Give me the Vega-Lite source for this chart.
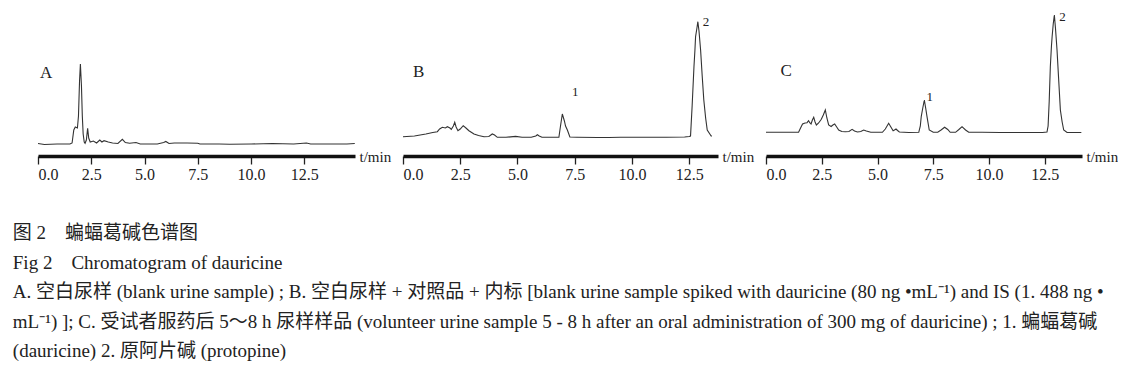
{
  "$schema": "https://vega.github.io/schema/vega-lite/v6.json",
  "padding": {"left": 12, "top": 5, "right": 0, "bottom": 0},
  "background": "white",
  "bounds": "flush",
  "spacing": 48,
  "config": {
    "view": {"stroke": null},
    "axis": {
      "domainWidth": 3.5, "domainColor": "#111", "tickColor": "#222", "tickWidth": 1.3, "tickSize": 8,
      "labelFont": "Liberation Serif", "labelFontSize": 16, "labelColor": "#222", "labelPadding": 2,
      "labelOverlap": false, "grid": false,
      "titleFont": "Liberation Serif", "titleFontSize": 15, "titleFontWeight": "normal", "titleColor": "#222",
      "titleAngle": 0, "titleAlign": "left", "titleBaseline": "middle", "titleY": 0,
      "labelExpr": "datum.value % 2.5 == 0 ? format(datum.value, '.1f') : ''"
    },
    "text": {"font": "Liberation Serif", "color": "#222"}
  },
  "title": {
    "text": [
      "图 2　蝙蝠葛碱色谱图",
      "Fig 2　Chromatogram of dauricine",
      "A. 空白尿样 (blank urine sample) ; B. 空白尿样 + 对照品 + 内标 [blank urine sample spiked with dauricine (80 ng •mL⁻¹) and IS (1. 488 ng •",
      "mL⁻¹) ]; C. 受试者服药后 5～8 h 尿样样品 (volunteer urine sample 5 - 8 h after an oral administration of 300 mg of dauricine) ; 1. 蝙蝠葛碱",
      "(dauricine) 2. 原阿片碱 (protopine)"
    ],
    "orient": "bottom", "anchor": "start", "offset": 42, "dx": -23,
    "font": "'Liberation Serif', 'Noto Sans CJK SC'", "fontSize": 19, "fontWeight": "normal",
    "color": "#222", "lineHeight": 29.5, "baseline": "top"
  },
  "datasets": {
    "A": [
      {"t": 0, "v": 12.5}, {"t": 0.3, "v": 11.5}, {"t": 0.6, "v": 11.7}, {"t": 0.9, "v": 12}, {"t": 1.2, "v": 12}, {"t": 1.5, "v": 12},
      {"t": 1.6, "v": 13}, {"t": 1.68, "v": 26}, {"t": 1.75, "v": 29}, {"t": 1.85, "v": 28}, {"t": 1.9, "v": 40}, {"t": 1.95, "v": 75},
      {"t": 1.99, "v": 92}, {"t": 2.04, "v": 70}, {"t": 2.08, "v": 40}, {"t": 2.12, "v": 22}, {"t": 2.17, "v": 14}, {"t": 2.21, "v": 12.7},
      {"t": 2.27, "v": 16}, {"t": 2.33, "v": 27.7}, {"t": 2.38, "v": 18}, {"t": 2.45, "v": 14}, {"t": 2.6, "v": 15}, {"t": 2.75, "v": 13},
      {"t": 2.9, "v": 16}, {"t": 3.0, "v": 14}, {"t": 3.1, "v": 15.3}, {"t": 3.3, "v": 14}, {"t": 3.5, "v": 13}, {"t": 3.75, "v": 12.5},
      {"t": 3.96, "v": 16.7}, {"t": 4.1, "v": 13.5}, {"t": 4.3, "v": 12.7}, {"t": 4.6, "v": 13.5}, {"t": 4.8, "v": 12}, {"t": 5.2, "v": 12},
      {"t": 5.6, "v": 12}, {"t": 5.9, "v": 13.5}, {"t": 6.0, "v": 14.5}, {"t": 6.15, "v": 12.5}, {"t": 6.4, "v": 13}, {"t": 7.0, "v": 13},
      {"t": 7.5, "v": 12.8}, {"t": 7.6, "v": 12}, {"t": 8.5, "v": 12}, {"t": 9.0, "v": 11.8}, {"t": 10, "v": 12}, {"t": 11, "v": 12.5},
      {"t": 12, "v": 12}, {"t": 12.6, "v": 13}, {"t": 12.8, "v": 12}, {"t": 13.5, "v": 12}, {"t": 14, "v": 12}, {"t": 14.5, "v": 12},
      {"t": 14.87, "v": 12.5}
    ],
    "B": [
      {"t": 0, "v": 19.3}, {"t": 0.5, "v": 20}, {"t": 1.0, "v": 22}, {"t": 1.3, "v": 23.5}, {"t": 1.5, "v": 24.3}, {"t": 1.6, "v": 27},
      {"t": 1.72, "v": 28.7}, {"t": 1.85, "v": 28}, {"t": 1.94, "v": 29.3}, {"t": 2.05, "v": 28}, {"t": 2.11, "v": 26.7}, {"t": 2.2, "v": 30},
      {"t": 2.26, "v": 33.7}, {"t": 2.32, "v": 29}, {"t": 2.4, "v": 25.3}, {"t": 2.5, "v": 27}, {"t": 2.63, "v": 30.3}, {"t": 2.75, "v": 28},
      {"t": 2.88, "v": 25.3}, {"t": 3.0, "v": 23.5}, {"t": 3.1, "v": 22}, {"t": 3.3, "v": 20.5}, {"t": 3.54, "v": 19.3}, {"t": 3.75, "v": 19.5},
      {"t": 3.9, "v": 22}, {"t": 4.0, "v": 21}, {"t": 4.12, "v": 18.7}, {"t": 4.5, "v": 18.7}, {"t": 4.92, "v": 19.6}, {"t": 5.2, "v": 18.8},
      {"t": 5.6, "v": 18.7}, {"t": 5.8, "v": 20}, {"t": 5.87, "v": 21.3}, {"t": 5.95, "v": 20}, {"t": 6.07, "v": 18.7}, {"t": 6.5, "v": 18.7},
      {"t": 6.81, "v": 18.7}, {"t": 6.88, "v": 30}, {"t": 6.96, "v": 42}, {"t": 7.05, "v": 35}, {"t": 7.1, "v": 30}, {"t": 7.18, "v": 26},
      {"t": 7.29, "v": 19}, {"t": 7.6, "v": 18.8}, {"t": 8.5, "v": 18.5}, {"t": 9.0, "v": 18.5}, {"t": 9.5, "v": 18.8}, {"t": 10.5, "v": 18.8},
      {"t": 11.5, "v": 18.8}, {"t": 12.3, "v": 19}, {"t": 12.5, "v": 19.5}, {"t": 12.56, "v": 20}, {"t": 12.63, "v": 50}, {"t": 12.71, "v": 89.3},
      {"t": 12.75, "v": 105}, {"t": 12.78, "v": 119.3}, {"t": 12.84, "v": 128}, {"t": 12.88, "v": 134.3}, {"t": 12.93, "v": 125}, {"t": 13.0, "v": 106},
      {"t": 13.07, "v": 80}, {"t": 13.14, "v": 56}, {"t": 13.22, "v": 38}, {"t": 13.29, "v": 26}, {"t": 13.46, "v": 20}, {"t": 13.5, "v": 20}
    ],
    "C": [
      {"t": 0, "v": 23.7}, {"t": 0.5, "v": 23.7}, {"t": 1.0, "v": 23.7}, {"t": 1.46, "v": 23.7}, {"t": 1.55, "v": 28}, {"t": 1.64, "v": 32},
      {"t": 1.75, "v": 33}, {"t": 1.84, "v": 33.3}, {"t": 1.91, "v": 35.3}, {"t": 1.97, "v": 33}, {"t": 2.02, "v": 32}, {"t": 2.08, "v": 36},
      {"t": 2.14, "v": 38.7}, {"t": 2.2, "v": 34}, {"t": 2.26, "v": 31}, {"t": 2.36, "v": 33}, {"t": 2.48, "v": 36.7}, {"t": 2.57, "v": 41},
      {"t": 2.66, "v": 46}, {"t": 2.73, "v": 38}, {"t": 2.81, "v": 31}, {"t": 2.92, "v": 29.5}, {"t": 3.0, "v": 31}, {"t": 3.08, "v": 32},
      {"t": 3.17, "v": 29}, {"t": 3.26, "v": 26}, {"t": 3.4, "v": 24.5}, {"t": 3.56, "v": 24.3}, {"t": 3.72, "v": 24.5}, {"t": 3.86, "v": 26.7},
      {"t": 3.97, "v": 25}, {"t": 4.1, "v": 24}, {"t": 4.25, "v": 24.5}, {"t": 4.38, "v": 26}, {"t": 4.5, "v": 25}, {"t": 4.7, "v": 23.7},
      {"t": 5.0, "v": 23.7}, {"t": 5.22, "v": 23.7}, {"t": 5.35, "v": 27}, {"t": 5.5, "v": 32.7}, {"t": 5.6, "v": 29}, {"t": 5.7, "v": 25.3},
      {"t": 5.76, "v": 26}, {"t": 5.83, "v": 27}, {"t": 5.9, "v": 25.5}, {"t": 5.98, "v": 24}, {"t": 6.4, "v": 23.5}, {"t": 6.85, "v": 23.7},
      {"t": 6.92, "v": 30}, {"t": 6.96, "v": 39.3}, {"t": 7.03, "v": 48}, {"t": 7.1, "v": 56}, {"t": 7.16, "v": 48}, {"t": 7.22, "v": 39.3},
      {"t": 7.32, "v": 26}, {"t": 7.5, "v": 23.7}, {"t": 7.7, "v": 23.8}, {"t": 7.85, "v": 26}, {"t": 8.01, "v": 28.7}, {"t": 8.15, "v": 26.5},
      {"t": 8.26, "v": 23.7}, {"t": 8.5, "v": 23.7}, {"t": 8.65, "v": 26.5}, {"t": 8.79, "v": 29.3}, {"t": 8.95, "v": 26}, {"t": 9.09, "v": 23.7},
      {"t": 9.69, "v": 23.7}, {"t": 10.5, "v": 23.5}, {"t": 11.5, "v": 23.5}, {"t": 12.4, "v": 23.5}, {"t": 12.6, "v": 24}, {"t": 12.65, "v": 30},
      {"t": 12.7, "v": 55}, {"t": 12.75, "v": 89.3}, {"t": 12.8, "v": 110}, {"t": 12.83, "v": 119.3}, {"t": 12.88, "v": 132}, {"t": 12.93, "v": 141},
      {"t": 12.98, "v": 128}, {"t": 13.05, "v": 106}, {"t": 13.12, "v": 78}, {"t": 13.2, "v": 46}, {"t": 13.28, "v": 34}, {"t": 13.35, "v": 26},
      {"t": 13.5, "v": 23.5}, {"t": 14.14, "v": 23.5}
    ],
    "letters": [
      {"panel": "A", "t": 0.38, "v": 83.3, "label": "A"},
      {"panel": "B", "t": 0.69, "v": 84.3, "label": "B"},
      {"panel": "C", "t": 0.91, "v": 85.3, "label": "C"}
    ],
    "peaks": [
      {"panel": "B", "t": 7.52, "v": 64.3, "label": "1"},
      {"panel": "B", "t": 13.24, "v": 134.3, "label": "2"},
      {"panel": "C", "t": 7.34, "v": 59.3, "label": "1"},
      {"panel": "C", "t": 13.3, "v": 138.7, "label": "2"}
    ]
  },
  "hconcat": [
    {
      "width": 317, "height": 151,
      "layer": [
        {
          "data": {"name": "A"},
          "mark": {"type": "line", "color": "#333", "strokeWidth": 1.1},
          "encoding": {
            "x": {"field": "t", "type": "quantitative", "scale": {"domain": [0, 14.88], "nice": false, "zero": false},
              "axis": {"values": [0, 1.25, 2.5, 3.75, 5, 6.25, 7.5, 8.75, 10, 11.25, 12.5, 13.75], "title": "t/min", "titleX": 321}},
            "y": {"field": "v", "type": "quantitative", "scale": {"domain": [0, 151], "nice": false}, "axis": null}
          }
        },
        {
          "data": {"name": "letters"},
          "transform": [{"filter": "datum.panel == 'A'"}],
          "mark": {"type": "text", "fontSize": 17, "align": "center", "baseline": "middle"},
          "encoding": {
            "x": {"field": "t", "type": "quantitative"},
            "y": {"field": "v", "type": "quantitative"},
            "text": {"field": "label"}
          }
        }
      ]
    },
    {
      "width": 315, "height": 151,
      "layer": [
        {
          "data": {"name": "B"},
          "mark": {"type": "line", "color": "#333", "strokeWidth": 1.1},
          "encoding": {
            "x": {"field": "t", "type": "quantitative", "scale": {"domain": [0, 13.76], "nice": false, "zero": false},
              "axis": {"values": [0, 1.25, 2.5, 3.75, 5, 6.25, 7.5, 8.75, 10, 11.25, 12.5], "title": "t/min", "titleX": 319}},
            "y": {"field": "v", "type": "quantitative", "scale": {"domain": [0, 151], "nice": false}, "axis": null}
          }
        },
        {
          "data": {"name": "letters"},
          "transform": [{"filter": "datum.panel == 'B'"}],
          "mark": {"type": "text", "fontSize": 17, "align": "center", "baseline": "middle"},
          "encoding": {
            "x": {"field": "t", "type": "quantitative"},
            "y": {"field": "v", "type": "quantitative"},
            "text": {"field": "label"}
          }
        },
        {
          "data": {"name": "peaks"},
          "transform": [{"filter": "datum.panel == 'B'"}],
          "mark": {"type": "text", "fontSize": 13, "align": "center", "baseline": "middle"},
          "encoding": {
            "x": {"field": "t", "type": "quantitative"},
            "y": {"field": "v", "type": "quantitative"},
            "text": {"field": "label"}
          }
        }
      ]
    },
    {
      "width": 316, "height": 151,
      "layer": [
        {
          "data": {"name": "C"},
          "mark": {"type": "line", "color": "#333", "strokeWidth": 1.1},
          "encoding": {
            "x": {"field": "t", "type": "quantitative", "scale": {"domain": [0, 14.17], "nice": false, "zero": false},
              "axis": {"values": [0, 1.25, 2.5, 3.75, 5, 6.25, 7.5, 8.75, 10, 11.25, 12.5, 13.75], "title": "t/min", "titleX": 320}},
            "y": {"field": "v", "type": "quantitative", "scale": {"domain": [0, 151], "nice": false}, "axis": null}
          }
        },
        {
          "data": {"name": "letters"},
          "transform": [{"filter": "datum.panel == 'C'"}],
          "mark": {"type": "text", "fontSize": 17, "align": "center", "baseline": "middle"},
          "encoding": {
            "x": {"field": "t", "type": "quantitative"},
            "y": {"field": "v", "type": "quantitative"},
            "text": {"field": "label"}
          }
        },
        {
          "data": {"name": "peaks"},
          "transform": [{"filter": "datum.panel == 'C'"}],
          "mark": {"type": "text", "fontSize": 13, "align": "center", "baseline": "middle"},
          "encoding": {
            "x": {"field": "t", "type": "quantitative"},
            "y": {"field": "v", "type": "quantitative"},
            "text": {"field": "label"}
          }
        }
      ]
    }
  ]
}
